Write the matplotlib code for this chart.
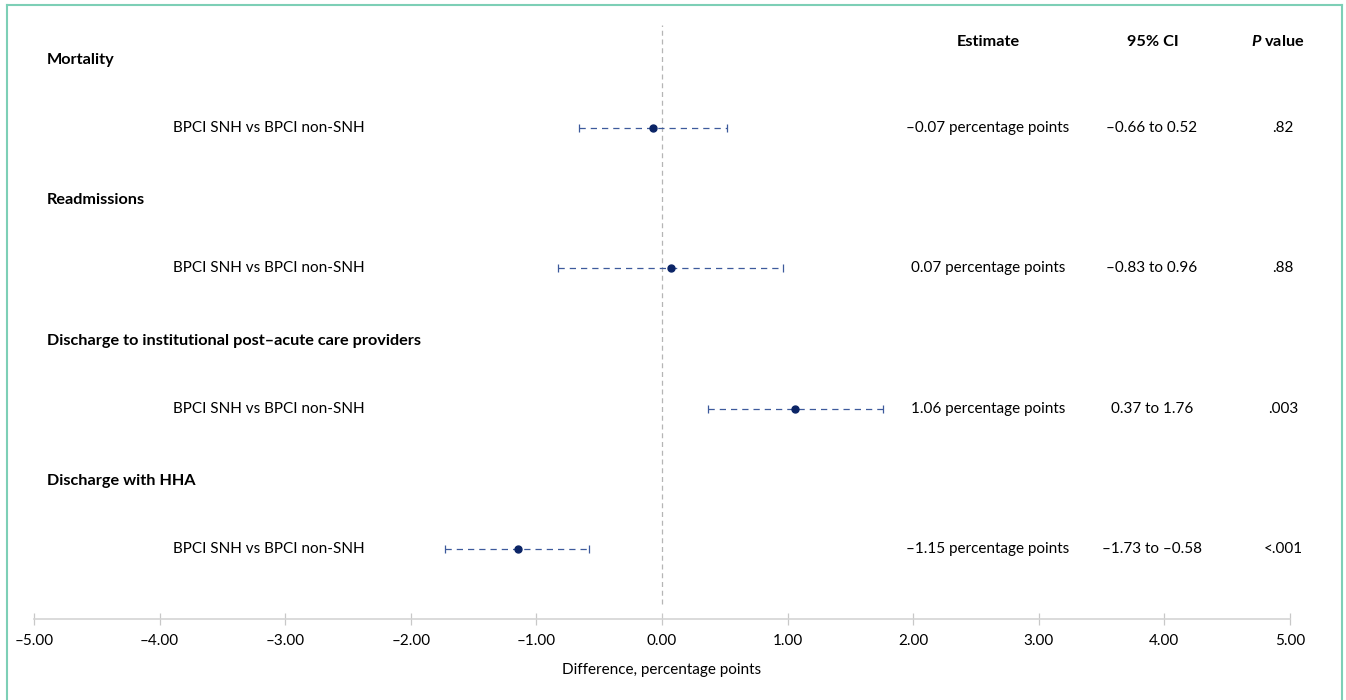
import matplotlib.pyplot as plt
from matplotlib.lines import Line2D

# data
outcomes = ["Mortality", "Readmissions",
            "Discharge to institutional post\u2013acute care providers",
            "Discharge with HHA"]
comparison = "BPCI SNH vs BPCI non-SNH"
estimate = [-0.07, 0.07, 1.06, -1.15]
ci_low = [-0.66, -0.83, 0.37, -1.73]
ci_high = [0.52, 0.96, 1.76, -0.58]
estimate_txt = ["\u20130.07 percentage points", "0.07 percentage points",
                "1.06 percentage points", "\u20131.15 percentage points"]
ci_txt = ["\u20130.66 to 0.52", "\u20130.83 to 0.96", "0.37 to 1.76", "\u20131.73 to \u20130.58"]
p_txt = [".82", ".88", ".003", "<.001"]
xticks = [-5, -4, -3, -2, -1, 0, 1, 2, 3, 4, 5]
xticklabels = ["\u2013%.2f" % abs(t) if t < 0 else "%.2f" % t for t in xticks]

plt.rcParams['font.family'] = ['Lato', 'DejaVu Sans']
plt.rcParams['mathtext.fontset'] = 'custom'
plt.rcParams['mathtext.bfit'] = 'Lato:bold:italic'
fs = 11
fs_bold = 11.7

W, H = 1346, 700
fig = plt.figure(figsize=(W / 100, H / 100), dpi=100)
# rows: header at 0, 2, 4, 6 and comparison at 1, 3, 5, 7; axis line at 8
ax = fig.add_axes([34 / W, 1 - 619 / H, (1290 - 34) / W, (619 - 23) / H])
ax.set_xlim(-5, 5)
ax.set_ylim(8, -0.5)

navy = "#0b2466"
dash_col = "#3d5a9c"
tr = ax.get_yaxis_transform()  # x in axes fraction, y in data

def fx(px):
    # figure pixel -> axes fraction along x
    return (px - 34) / (1290 - 34)

for i in range(len(outcomes)):
    yh = 2 * i
    yr = 2 * i + 1
    ax.text(fx(47), yh + 0.03, outcomes[i], transform=tr, fontsize=fs_bold, fontweight="bold",
            ha="left", va="center", clip_on=False)
    ax.text(fx(365), yr, comparison, transform=tr, fontsize=fs, ha="right", va="center",
            clip_on=False)
    ax.text(fx(988), yr, estimate_txt[i], transform=tr, fontsize=fs, ha="center",
            va="center", clip_on=False)
    ax.text(fx(1152), yr, ci_txt[i], transform=tr, fontsize=fs, ha="center",
            va="center", clip_on=False)
    ax.text(fx(1283), yr, p_txt[i], transform=tr, fontsize=fs, ha="center",
            va="center", clip_on=False)
    ax.plot([ci_low[i], ci_high[i]], [yr, yr], color=dash_col, lw=0.9,
            ls=(0, (5, 4)), zorder=2)
    ax.plot([ci_low[i], ci_high[i]], [yr, yr], color=dash_col, lw=0, marker="|",
            markersize=6, markeredgewidth=0.9, zorder=2)
    ax.plot([estimate[i]], [yr], marker="o", color=navy, markersize=5, zorder=3)

ax.text(fx(988), -0.23, "Estimate", transform=tr, fontsize=fs_bold, fontweight="bold",
        ha="center", va="center", clip_on=False)
ax.text(fx(1153), -0.23, "95% CI", transform=tr, fontsize=fs_bold, fontweight="bold",
        ha="center", va="center", clip_on=False)
ax.text(fx(1278), -0.23, r"$\bfit{P}$ value", transform=tr, fontsize=fs_bold, fontweight="bold",
        ha="center", va="center", clip_on=False)

ax.axvline(0, color="#b5b5b5", lw=0.9, ls=(0, (4, 3)), ymin=0.025, ymax=0.997, zorder=1)

for s in ["top", "left", "right"]:
    ax.spines[s].set_visible(False)
ax.spines["bottom"].set_color("#d4d4d4")
ax.spines["bottom"].set_linewidth(1.2)
ax.set_yticks([])
ax.set_xticks(xticks)
ax.set_xticklabels(xticklabels, fontsize=fs)
ax.tick_params(axis="x", direction="inout", length=9, width=0.9, color="#c8c8c8", pad=6)
ax.set_xlabel("Difference, percentage points", fontsize=fs, labelpad=11)

# frame around the figure (open at the bottom)
border = "#7dcfb6"
fig.add_artist(Line2D([7 / W, 7 / W], [0, 1 - 5 / H], color=border, lw=1.5))
fig.add_artist(Line2D([7 / W, 1342 / W], [1 - 5 / H, 1 - 5 / H], color=border, lw=1.5))
fig.add_artist(Line2D([1342 / W, 1342 / W], [0, 1 - 5 / H], color=border, lw=1.5))

fig.savefig("out.png", dpi=100)
